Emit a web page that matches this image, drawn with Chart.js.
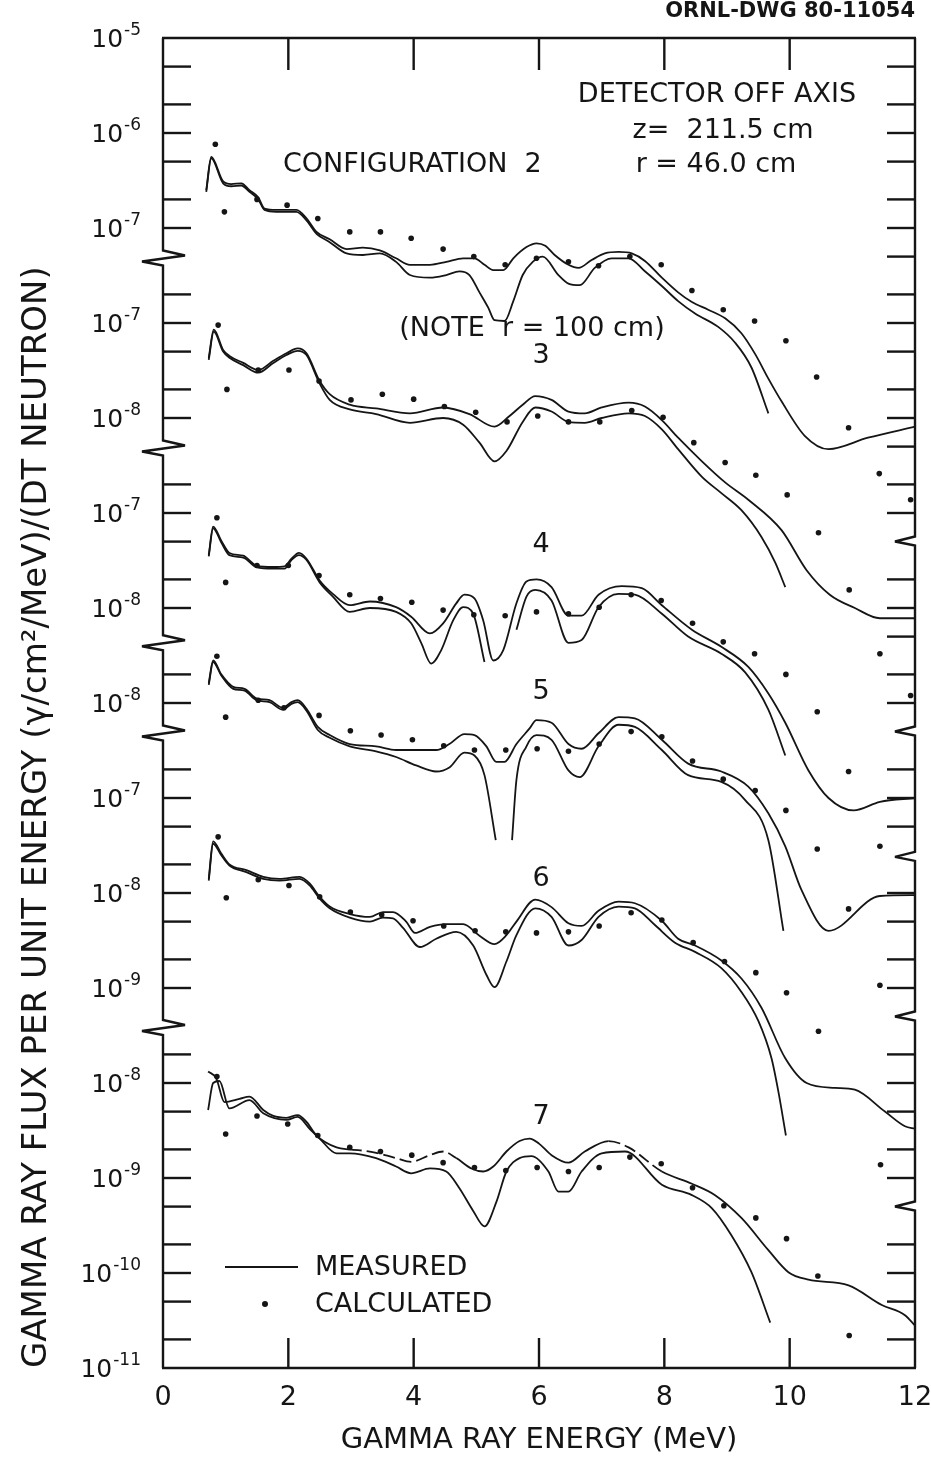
<!DOCTYPE html>
<html>
<head>
<meta charset="utf-8">
<script src="https://cdn.jsdelivr.net/npm/chart.js@4.4.1/dist/chart.umd.min.js"></script>
<style>
  html, body { margin: 0; padding: 0; background: #fff; }
  canvas { display: block; }
</style>
</head>
<body>
<canvas id="chart" width="931" height="1463"></canvas>
<script>
// gamma ray flux, [energy MeV, flux per MeV per DT neutron]
// two measured traces per configuration (they run together at low energy) and the calculated points
const c2Hi = [[0.69,2.5e-7],[0.77,5.6e-7],[0.96,3.1e-7],[1.09,2.9e-7],[1.25,2.95e-7],[1.38,2.5e-7],[1.52,2.1e-7],[1.62,1.6e-7],[1.81,1.55e-7],[2.13,1.55e-7],[2.29,1.26e-7],[2.45,9.1e-8],[2.66,7.6e-8],[2.93,6.0e-8],[3.19,6.2e-8],[3.46,5.8e-8],[3.72,4.8e-8],[3.94,4.1e-8],[4.26,4.1e-8],[4.52,4.4e-8],[4.79,4.8e-8],[4.97,4.8e-8],[5.13,4.1e-8],[5.27,3.6e-8],[5.43,3.6e-8],[5.59,4.8e-8],[5.80,6.3e-8],[5.96,6.9e-8],[6.10,6.5e-8],[6.25,5.2e-8],[6.47,4.1e-8],[6.63,3.8e-8],[6.84,4.6e-8],[7.05,5.4e-8],[7.27,5.6e-8],[7.48,5.4e-8],[7.69,4.5e-8],[7.96,3.0e-8],[8.22,2.1e-8],[8.44,1.66e-8],[8.70,1.38e-8],[8.97,1.12e-8],[9.23,7.8e-9],[9.45,4.7e-9],[9.66,2.6e-9],[9.87,1.5e-9],[10.24,6.5e-10],[10.62,4.7e-10],[11.25,6.2e-10],[12.0,8.1e-10]];
const c2Lo = [[0.69,2.4e-7],[0.77,5.4e-7],[0.96,2.95e-7],[1.09,2.75e-7],[1.25,2.8e-7],[1.38,2.4e-7],[1.52,2.0e-7],[1.62,1.55e-7],[1.81,1.48e-7],[2.13,1.48e-7],[2.29,1.2e-7],[2.45,8.7e-8],[2.66,7.1e-8],[2.93,5.4e-8],[3.19,5.2e-8],[3.46,5.4e-8],[3.72,4.4e-8],[3.94,3.2e-8],[4.26,3.0e-8],[4.52,3.2e-8],[4.73,3.5e-8],[4.89,3.2e-8],[5.05,2.1e-8],[5.19,1.45e-8],[5.29,1.07e-8],[5.45,1.05e-8],[5.59,1.7e-8],[5.74,3.2e-8],[5.90,4.4e-8],[6.06,5.0e-8],[6.31,3.2e-8],[6.47,2.6e-8],[6.65,2.5e-8],[6.89,3.8e-8],[7.16,4.8e-8],[7.43,4.8e-8],[7.69,3.5e-8],[7.96,2.45e-8],[8.22,1.7e-8],[8.49,1.26e-8],[8.86,9.1e-9],[9.13,6.2e-9],[9.39,3.4e-9],[9.66,1.12e-9]];
const c2Calc = [[0.835,7.6e-7],[0.98,1.48e-7],[1.50,2.0e-7],[1.98,1.74e-7],[2.47,1.26e-7],[2.98,9.1e-8],[3.47,9.1e-8],[3.96,7.8e-8],[4.47,6.0e-8],[4.96,5.0e-8],[5.46,4.1e-8],[5.96,4.8e-8],[6.47,4.4e-8],[6.95,4.0e-8],[7.45,5.0e-8],[7.95,4.1e-8],[8.44,2.2e-8],[8.94,1.38e-8],[9.44,1.05e-8],[9.94,6.5e-9],[10.43,2.7e-9],[10.94,7.9e-10],[11.43,2.6e-10],[11.93,1.38e-10]];

const c3Hi = [[0.73,4.3e-8],[0.81,8.5e-8],[0.96,5.2e-8],[1.06,4.5e-8],[1.28,3.8e-8],[1.52,3.2e-8],[1.76,4.0e-8],[1.97,4.8e-8],[2.15,5.4e-8],[2.29,4.8e-8],[2.50,2.45e-8],[2.66,1.78e-8],[2.98,1.38e-8],[3.40,1.26e-8],[3.94,1.12e-8],[4.47,1.29e-8],[4.89,1.1e-8],[5.29,8.1e-9],[5.53,1.05e-8],[5.74,1.38e-8],[5.94,1.7e-8],[6.20,1.55e-8],[6.47,1.17e-8],[6.73,1.12e-8],[7.00,1.29e-8],[7.43,1.45e-8],[7.69,1.32e-8],[7.96,9.5e-9],[8.22,6.2e-9],[8.60,3.5e-9],[8.97,2.1e-9],[9.34,1.38e-9],[9.87,6.6e-10],[10.27,2.5e-10],[10.64,1.38e-10],[11.04,1.0e-10],[11.44,7.8e-11],[12.0,7.8e-11]];
const c3Lo = [[0.73,4.1e-8],[0.81,8.1e-8],[0.96,5.0e-8],[1.06,4.3e-8],[1.28,3.6e-8],[1.52,3.0e-8],[1.76,3.8e-8],[1.97,4.6e-8],[2.15,5.1e-8],[2.29,4.6e-8],[2.50,2.3e-8],[2.66,1.55e-8],[2.98,1.23e-8],[3.40,1.1e-8],[3.94,8.9e-9],[4.47,1.0e-8],[4.79,8.5e-9],[5.05,5.5e-9],[5.29,3.5e-9],[5.48,4.5e-9],[5.74,9.1e-9],[5.94,1.29e-8],[6.20,1.17e-8],[6.47,9.1e-9],[6.73,8.9e-9],[7.00,1.0e-8],[7.43,1.12e-8],[7.69,1.05e-8],[7.96,7.6e-9],[8.22,4.7e-9],[8.60,2.4e-9],[8.91,1.62e-9],[9.23,1.07e-9],[9.55,5.6e-10],[9.77,3.0e-10],[9.93,1.66e-10]];
const c3Calc = [[0.88,9.5e-8],[1.02,2.0e-8],[1.52,3.2e-8],[2.01,3.2e-8],[2.49,2.45e-8],[3.00,1.55e-8],[3.50,1.78e-8],[4.00,1.58e-8],[4.49,1.32e-8],[4.99,1.15e-8],[5.49,9.1e-9],[5.98,1.05e-8],[6.47,9.1e-9],[6.97,9.1e-9],[7.48,1.2e-8],[7.98,1.02e-8],[8.47,5.5e-9],[8.97,3.4e-9],[9.46,2.5e-9],[9.96,1.55e-9],[10.46,6.2e-10],[10.95,1.55e-10],[11.44,3.3e-11],[11.93,1.2e-11]];

const c4Hi = [[0.73,3.6e-8],[0.80,7.2e-8],[0.93,5.1e-8],[1.06,3.8e-8],[1.28,3.55e-8],[1.49,2.8e-8],[1.76,2.7e-8],[1.94,2.75e-8],[2.05,3.3e-8],[2.17,3.8e-8],[2.29,3.3e-8],[2.50,1.95e-8],[2.71,1.41e-8],[2.98,1.07e-8],[3.30,1.17e-8],[3.72,1.02e-8],[3.96,8.1e-9],[4.26,5.4e-9],[4.47,6.9e-9],[4.68,1.12e-8],[4.81,1.38e-8],[4.97,1.26e-8],[5.11,7.4e-9],[5.27,2.8e-9],[5.43,3.6e-9],[5.64,1.12e-8],[5.80,1.9e-8],[5.96,2.0e-8],[6.20,1.66e-8],[6.47,8.3e-9],[6.68,8.3e-9],[6.95,1.38e-8],[7.32,1.7e-8],[7.64,1.62e-8],[7.96,1.07e-8],[8.44,5.9e-9],[8.91,3.9e-9],[9.34,2.4e-9],[9.66,1.26e-9],[9.93,6.2e-10],[10.30,1.95e-10],[10.62,1.0e-10],[11.02,7.4e-11],[11.44,9.1e-11],[12.0,1.0e-10]];
const c4Lo = [[0.73,3.5e-8],[0.80,6.9e-8],[0.93,4.9e-8],[1.06,3.6e-8],[1.28,3.4e-8],[1.49,2.7e-8],[1.76,2.6e-8],[1.94,2.6e-8],[2.05,3.2e-8],[2.17,3.6e-8],[2.29,3.2e-8],[2.50,1.86e-8],[2.71,1.32e-8],[2.98,9.1e-9],[3.30,1.0e-8],[3.72,9.1e-9],[3.96,6.9e-9],[4.12,4.3e-9],[4.28,2.6e-9],[4.44,3.6e-9],[4.63,7.4e-9],[4.79,1.02e-8],[4.95,8.7e-9],[5.13,2.7e-9],[5.40,null],[5.64,5.9e-9],[5.80,1.32e-8],[5.94,1.55e-8],[6.20,1.2e-8],[6.47,4.3e-9],[6.68,4.6e-9],[6.95,1.02e-8],[7.27,1.41e-8],[7.53,1.38e-8],[7.96,8.7e-9],[8.38,5.0e-9],[8.91,3.3e-9],[9.29,2.1e-9],[9.66,8.5e-10],[9.93,2.8e-10]];
const c4Calc = [[0.86,8.9e-8],[1.00,1.86e-8],[1.50,2.8e-8],[2.00,2.8e-8],[2.49,2.2e-8],[2.98,1.38e-8],[3.47,1.26e-8],[3.97,1.15e-8],[4.47,9.5e-9],[4.96,8.5e-9],[5.46,8.3e-9],[5.96,9.1e-9],[6.47,8.7e-9],[6.96,1.02e-8],[7.47,1.38e-8],[7.95,1.2e-8],[8.45,6.9e-9],[8.94,4.4e-9],[9.44,3.3e-9],[9.94,2.0e-9],[10.44,8.1e-10],[10.94,1.9e-10],[11.44,3.1e-11]];

const c5Hi = [[0.73,1.62e-8],[0.80,2.8e-8],[0.93,2.0e-8],[1.12,1.48e-8],[1.30,1.41e-8],[1.49,1.12e-8],[1.70,1.07e-8],[1.91,8.9e-9],[2.05,1.02e-8],[2.15,1.07e-8],[2.29,8.7e-9],[2.47,5.6e-9],[2.66,4.6e-9],[2.98,3.7e-9],[3.40,3.5e-9],[3.72,3.2e-9],[4.04,3.2e-9],[4.36,3.2e-9],[4.57,3.7e-9],[4.81,4.7e-9],[4.97,4.6e-9],[5.16,3.5e-9],[5.32,2.4e-9],[5.45,2.4e-9],[5.64,3.7e-9],[5.85,5.4e-9],[5.96,6.6e-9],[6.20,6.2e-9],[6.47,3.7e-9],[6.68,3.3e-9],[6.95,4.8e-9],[7.27,7.1e-9],[7.53,6.9e-9],[7.96,4.1e-9],[8.38,2.3e-9],[8.91,1.9e-9],[9.34,1.32e-9],[9.66,6.9e-10],[9.93,3.1e-10],[10.19,1.07e-10],[10.62,4.0e-11],[11.44,9.3e-11],[12.0,9.5e-11]];
const c5Lo = [[0.73,1.55e-8],[0.80,2.7e-8],[0.93,1.95e-8],[1.12,1.41e-8],[1.30,1.35e-8],[1.49,1.07e-8],[1.70,1.02e-8],[1.91,8.5e-9],[2.05,9.8e-9],[2.15,1.02e-8],[2.29,8.3e-9],[2.47,5.2e-9],[2.66,4.3e-9],[2.98,3.5e-9],[3.40,3.1e-9],[3.72,2.7e-9],[4.04,2.2e-9],[4.36,1.9e-9],[4.57,2.1e-9],[4.81,3.0e-9],[4.97,2.8e-9],[5.13,1.74e-9],[5.31,3.6e-10],[5.44,null],[5.57,3.6e-10],[5.64,1.55e-9],[5.80,3.5e-9],[5.96,4.6e-9],[6.20,4.1e-9],[6.47,1.95e-9],[6.65,1.66e-9],[6.95,3.5e-9],[7.27,5.9e-9],[7.53,5.6e-9],[7.96,3.2e-9],[8.38,1.74e-9],[8.91,1.48e-9],[9.29,9.5e-10],[9.66,3.6e-10],[9.90,4.0e-11]];
const c5Calc = [[0.86,3.1e-8],[1.00,7.1e-9],[1.52,1.07e-8],[1.93,8.9e-9],[2.49,7.4e-9],[2.99,5.1e-9],[3.48,4.6e-9],[3.98,4.1e-9],[4.48,3.55e-9],[4.97,3.2e-9],[5.47,3.2e-9],[5.97,3.3e-9],[6.47,3.1e-9],[6.96,3.7e-9],[7.47,5.0e-9],[7.96,4.4e-9],[8.45,2.45e-9],[8.94,1.58e-9],[9.45,1.2e-9],[9.94,7.4e-10],[10.44,2.9e-10],[10.94,6.8e-11],[11.44,1.07e-11]];

const c6Hi = [[0.73,1.41e-8],[0.80,3.5e-8],[0.93,2.6e-8],[1.06,2.0e-8],[1.33,1.74e-8],[1.60,1.48e-8],[1.86,1.41e-8],[2.18,1.48e-8],[2.34,1.26e-8],[2.50,9.1e-9],[2.66,7.2e-9],[2.98,6.0e-9],[3.30,5.6e-9],[3.51,6.3e-9],[3.67,6.3e-9],[3.88,5.0e-9],[4.02,3.8e-9],[4.26,4.4e-9],[4.52,4.7e-9],[4.79,4.7e-9],[5.05,3.55e-9],[5.29,2.9e-9],[5.48,3.6e-9],[5.64,5.0e-9],[5.94,8.5e-9],[6.20,7.1e-9],[6.47,4.8e-9],[6.68,4.5e-9],[6.95,6.5e-9],[7.27,8.1e-9],[7.53,7.8e-9],[7.96,5.1e-9],[8.22,3.3e-9],[8.49,2.8e-9],[8.91,1.95e-9],[9.23,1.26e-9],[9.55,6.2e-10],[9.93,1.82e-10],[10.27,1.0e-10],[10.72,8.9e-11],[11.04,8.5e-11],[11.52,5.0e-11],[11.84,3.5e-11],[12.0,3.3e-11]];
const c6Lo = [[0.73,1.35e-8],[0.80,3.3e-8],[0.93,2.5e-8],[1.06,1.95e-8],[1.33,1.66e-8],[1.60,1.41e-8],[1.86,1.35e-8],[2.18,1.41e-8],[2.34,1.2e-8],[2.50,8.7e-9],[2.66,6.9e-9],[2.98,5.5e-9],[3.30,5.0e-9],[3.51,5.5e-9],[3.67,5.4e-9],[3.83,4.3e-9],[4.10,2.7e-9],[4.36,3.3e-9],[4.68,3.9e-9],[4.95,2.8e-9],[5.16,1.38e-9],[5.29,1.02e-9],[5.48,1.9e-9],[5.64,3.6e-9],[5.94,6.9e-9],[6.20,5.6e-9],[6.47,2.8e-9],[6.68,3.2e-9],[6.95,5.6e-9],[7.27,7.2e-9],[7.53,6.9e-9],[7.85,4.6e-9],[8.17,3.0e-9],[8.49,2.4e-9],[8.91,1.62e-9],[9.23,9.1e-10],[9.50,4.5e-10],[9.71,1.82e-10],[9.82,8.1e-11],[9.94,2.8e-11]];
const c6Calc = [[0.88,3.9e-8],[1.01,8.9e-9],[1.52,1.38e-8],[2.01,1.2e-8],[2.50,9.1e-9],[2.99,6.3e-9],[3.49,5.9e-9],[3.99,5.1e-9],[4.48,4.5e-9],[4.98,4.0e-9],[5.47,3.9e-9],[5.96,3.8e-9],[6.47,3.9e-9],[6.96,4.5e-9],[7.47,6.2e-9],[7.96,5.2e-9],[8.46,3.0e-9],[8.96,1.9e-9],[9.46,1.45e-9],[9.95,8.9e-10],[10.46,3.5e-10],[11.45,1.38e-11]];

const c7Hi = [[0.72,1.32e-8],[0.85,1.12e-8],[0.98,6.3e-9],[1.22,6.8e-9],[1.38,7.2e-9],[1.60,5.2e-9],[1.76,4.5e-9],[1.97,4.3e-9],[2.15,4.6e-9],[2.29,3.9e-9],[2.45,2.8e-9],[2.77,2.1e-9],[2.98,2.0e-9],[3.30,1.9e-9],[3.72,1.62e-9],[3.96,1.48e-9],[4.26,1.74e-9],[4.47,1.9e-9],[4.68,1.62e-9],[4.92,1.26e-9],[5.11,1.17e-9],[5.27,1.32e-9],[5.48,1.9e-9],[5.69,2.45e-9],[5.85,2.6e-9],[6.00,2.3e-9],[6.20,1.74e-9],[6.47,1.45e-9],[6.73,1.9e-9],[7.11,2.45e-9],[7.43,2.1e-9],[7.96,1.17e-9],[8.44,8.7e-10],[8.81,6.6e-10],[9.23,3.8e-10],[9.66,1.74e-10],[9.98,1.02e-10],[10.30,8.5e-11],[10.94,7.4e-11],[11.47,4.6e-11],[11.84,3.6e-11],[12.0,2.8e-11]];
const c7Lo = [[0.72,5.2e-9],[0.80,1.0e-8],[0.90,1.05e-8],[1.06,5.4e-9],[1.38,6.6e-9],[1.60,4.8e-9],[1.97,4.1e-9],[2.15,4.4e-9],[2.34,3.3e-9],[2.50,2.6e-9],[2.77,1.82e-9],[2.98,1.82e-9],[3.40,1.62e-9],[3.72,1.32e-9],[3.96,1.12e-9],[4.26,1.26e-9],[4.52,1.17e-9],[4.73,7.8e-10],[4.95,4.5e-10],[5.13,3.1e-10],[5.32,5.6e-10],[5.48,1.17e-9],[5.69,1.62e-9],[5.88,1.7e-9],[6.15,1.17e-9],[6.31,7.2e-10],[6.47,7.2e-10],[6.68,1.17e-9],[7.00,1.82e-9],[7.37,1.9e-9],[7.96,8.5e-10],[8.44,6.6e-10],[8.76,4.8e-10],[9.07,2.5e-10],[9.39,1.02e-10],[9.69,3.0e-11]];
const c7Calc = [[0.86,1.17e-8],[1.00,2.9e-9],[1.50,4.5e-9],[1.99,3.7e-9],[2.47,2.8e-9],[2.98,2.1e-9],[3.47,1.9e-9],[3.97,1.74e-9],[4.47,1.45e-9],[4.97,1.29e-9],[5.47,1.2e-9],[5.97,1.29e-9],[6.47,1.17e-9],[6.96,1.29e-9],[7.45,1.66e-9],[7.95,1.41e-9],[8.45,7.9e-10],[8.95,5.1e-10],[9.46,3.8e-10],[9.95,2.3e-10],[10.45,9.3e-11],[10.95,2.2e-11]];

// stacked log axis: 0 = bottom of the frame, 14 = top, one unit per decade.
// each configuration is shifted by its own number of decades
const decadeLift = [19, 18, 16, 15, 13, 11];   // configurations 2..7
// exponent printed at each whole unit, top of the frame first
const tickExponents = [-5, -6, -7, -7, -8, -7, -8, -8, -7, -8, -9, -8, -9, -10, -11];
// where the frame edges are broken (axis units)
const leftBreaks = [11.7, 9.7, 7.65, 6.7, 3.6];
const rightBreaks = [8.7, 6.7, 5.38, 3.7, 1.7];

const ink = '#151515';
const family = '"DejaVu Sans", "Noto Sans", sans-serif';

function stack(points, lift) {
  return points.map(p => ({ x: p[0], y: p[1] == null ? null : Math.log10(p[1]) + lift }));
}

const measured = [[c2Hi, c2Lo], [c3Hi, c3Lo], [c4Hi, c4Lo], [c5Hi, c5Lo], [c6Hi, c6Lo], [c7Hi, c7Lo]];
const calculated = [c2Calc, c3Calc, c4Calc, c5Calc, c6Calc, c7Calc];

const datasets = [];
measured.forEach((pair, i) => {
  pair.forEach((pts, j) => {
    const ds = {
      data: stack(pts, decadeLift[i]),
      borderColor: ink,
      borderWidth: 1.8,
      pointRadius: 0,
      fill: false,
      spanGaps: false,
      cubicInterpolationMode: 'monotone'
    };
    // upper trace of configuration 7 is drawn broken in places
    if (i === 5 && j === 0) {
      ds.segment = {
        borderDash: c => {
          const e = c.p0.parsed.x;
          return (e >= 2.9 && e < 4.6) || (e >= 6.8 && e < 7.6) ? [12, 5] : undefined;
        }
      };
    }
    datasets.push(ds);
  });
});
calculated.forEach((pts, i) => {
  datasets.push({
    data: stack(pts, decadeLift[i]),
    showLine: false,
    pointRadius: 2.8,
    pointBackgroundColor: ink,
    pointBorderWidth: 0
  });
});

function tickPositions(breaks) {
  const edges = [0, ...breaks.slice().sort((a, b) => a - b), 14];
  const out = [];
  for (let k = 0; k < 14; k++) {
    [0, 0.301, 0.699].forEach(f => {
      const p = k + f;
      for (let i = 0; i < edges.length - 1; i++) {
        if (p > edges[i] + 0.15 && p < edges[i + 1] - 0.15) out.push(p);
      }
    });
  }
  return out;
}

const notes = [
  { text: 'DETECTOR OFF AXIS', x: 717, y: 95, align: 'center' },
  { text: 'z=  211.5 cm', x: 723, y: 131, align: 'center' },
  { text: 'r = 46.0 cm', x: 716, y: 165, align: 'center' },
  { text: 'CONFIGURATION  2', x: 283, y: 165, align: 'left' },
  { text: '(NOTE  r = 100 cm)', x: 532, y: 329, align: 'center' },
  { text: '3', x: 541, y: 356, align: 'center' },
  { text: '4', x: 541, y: 545, align: 'center' },
  { text: '5', x: 541, y: 692, align: 'center' },
  { text: '6', x: 541, y: 879, align: 'center' },
  { text: '7', x: 541, y: 1117, align: 'center' },
  { text: 'MEASURED', x: 315, y: 1268, align: 'left' },
  { text: 'CALCULATED', x: 315, y: 1305, align: 'left' }
];

const framePlugin = {
  id: 'frame',
  afterDraw(chart) {
    const { ctx, chartArea: a, scales: { x, y } } = chart;
    ctx.save();
    ctx.strokeStyle = ink;
    ctx.fillStyle = ink;
    ctx.lineWidth = 2.4;
    ctx.lineJoin = 'miter';
    ctx.miterLimit = 4;
    const seg = (x1, y1, x2, y2) => { ctx.beginPath(); ctx.moveTo(x1, y1); ctx.lineTo(x2, y2); ctx.stroke(); };

    seg(a.left - 1, a.top, a.right + 1, a.top);
    seg(a.left - 1, a.bottom, a.right + 1, a.bottom);

    // left edge with zigzag breaks
    ctx.beginPath();
    ctx.moveTo(a.left, a.top);
    leftBreaks.forEach(b => {
      const yb = y.getPixelForValue(b);
      ctx.lineTo(a.left, yb - 6);
      ctx.lineTo(a.left + 22, yb - 1);
      ctx.lineTo(a.left - 21, yb + 5);
      ctx.lineTo(a.left, yb + 9);
    });
    ctx.lineTo(a.left, a.bottom);
    ctx.stroke();

    // right edge
    ctx.beginPath();
    ctx.moveTo(a.right, a.top);
    rightBreaks.forEach(b => {
      const yb = y.getPixelForValue(b);
      ctx.lineTo(a.right, yb - 5);
      ctx.lineTo(a.right - 20, yb);
      ctx.lineTo(a.right, yb + 4);
    });
    ctx.lineTo(a.right, a.bottom);
    ctx.stroke();

    tickPositions(leftBreaks).forEach(p => {
      const py = y.getPixelForValue(p);
      seg(a.left, py, a.left + 28, py);
    });
    tickPositions(rightBreaks).forEach(p => {
      const py = y.getPixelForValue(p);
      seg(a.right - 28, py, a.right, py);
    });
    [2, 4, 6, 8, 10].forEach(e => {
      const px = x.getPixelForValue(e);
      seg(px, a.top, px, a.top + 32);
      seg(px, a.bottom, px, a.bottom - 30);
    });

    // decade labels, 10 with a raised exponent
    ctx.textAlign = 'right';
    ctx.textBaseline = 'alphabetic';
    y.ticks.forEach(t => {
      const py = y.getPixelForValue(t.value);
      const ex = String(tickExponents[14 - t.value]);
      ctx.font = '17px ' + family;
      const w = ctx.measureText(ex).width;
      ctx.fillText(ex, a.left - 22, py - 3);
      ctx.font = '25px ' + family;
      ctx.fillText('10', a.left - 23 - w, py + 9);
    });

    // texts
    ctx.textBaseline = 'middle';
    ctx.font = '27px ' + family;
    notes.forEach(n => {
      ctx.textAlign = n.align;
      ctx.fillText(n.text, n.x, n.y);
    });
    ctx.font = 'bold 21px ' + family;
    ctx.textAlign = 'right';
    ctx.textBaseline = 'alphabetic';
    ctx.fillText('ORNL-DWG 80-11054', a.right, 17);

    // legend keys
    ctx.lineWidth = 2;
    seg(225, 1267, 298, 1267);
    ctx.beginPath();
    ctx.arc(265, 1304, 3, 0, Math.PI * 2);
    ctx.fill();
    ctx.restore();
  }
};

new Chart(document.getElementById('chart'), {
  type: 'line',
  data: { datasets },
  options: {
    responsive: false,
    animation: false,
    layout: { padding: { top: 38, right: 16, left: 0, bottom: 0 } },
    plugins: { legend: { display: false }, tooltip: { enabled: false } },
    scales: {
      x: {
        type: 'linear',
        min: 0,
        max: 12,
        ticks: { stepSize: 2, color: ink, font: { family, size: 27 }, padding: 14, maxRotation: 0 },
        grid: { display: false, drawTicks: false },
        border: { display: false },
        title: {
          display: true,
          text: 'GAMMA RAY ENERGY (MeV)',
          color: ink,
          font: { family, size: 29 },
          padding: { top: 0, bottom: 5 }
        },
        afterFit: s => { s.height = 95; s.paddingLeft = 0; s.paddingRight = 0; }
      },
      y: {
        type: 'linear',
        min: 0,
        max: 14,
        ticks: { stepSize: 1, autoSkip: false, display: false },
        grid: { display: false, drawTicks: false },
        border: { display: false },
        title: {
          display: true,
          text: 'GAMMA RAY FLUX PER UNIT ENERGY (\u03B3/cm\u00B2/MeV)/(DT NEUTRON)',
          align: 'start',
          color: ink,
          font: { family, size: 34 },
          padding: { top: 17, bottom: 0 }
        },
        afterFit: s => { s.width = 163; s.paddingTop = 0; s.paddingBottom = 0; }
      }
    }
  },
  plugins: [framePlugin]
});
</script>
</body>
</html>
